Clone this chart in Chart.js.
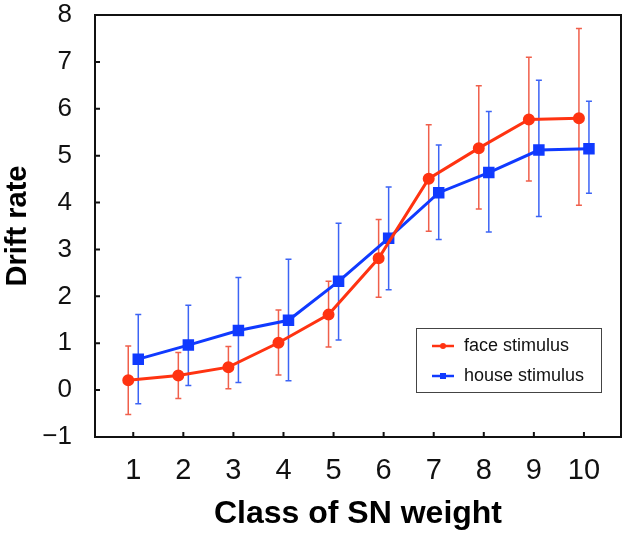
<!DOCTYPE html>
<html>
<head>
<meta charset="utf-8">
<script src="https://cdn.jsdelivr.net/npm/chart.js@4.4.1/dist/chart.umd.min.js"></script>
<style>
  body { margin: 0; background: #fff; }
  canvas { display: block; }
</style>
</head>
<body>
<canvas id="myChart" width="630" height="539"></canvas>
<script>
// classes on the x axis
const classes = [1, 2, 3, 4, 5, 6, 7, 8, 9, 10];
const yTicks = [-1, 0, 1, 2, 3, 4, 5, 6, 7, 8];

// face stimulus: mean and error bar ends
const faceMean = [0.21, 0.31, 0.49, 1.01, 1.61, 2.81, 4.51, 5.16, 5.77, 5.80];
const faceHigh = [0.94, 0.80, 0.93, 1.71, 2.32, 3.64, 5.66, 6.49, 7.10, 7.71];
const faceLow = [-0.52, -0.18, 0.03, 0.32, 0.92, 1.98, 3.39, 3.86, 4.46, 3.94];

// house stimulus
const houseMean = [0.66, 0.96, 1.27, 1.49, 2.32, 3.24, 4.21, 4.64, 5.12, 5.15];
const houseHigh = [1.61, 1.81, 2.40, 2.79, 3.56, 4.33, 5.23, 5.94, 6.61, 6.16];
const houseLow = [-0.29, 0.10, 0.16, 0.20, 1.07, 2.14, 3.21, 3.37, 3.70, 4.20];

const RED = 'rgb(255, 51, 17)';
const BLUE = 'rgb(16, 58, 255)';
const dodge = 0.1;

function points(means, lows, highs, shift) {
    return classes.map((c, i) => ({ x: c + shift, y: means[i], lo: lows[i], hi: highs[i] }));
}

// error bars, drawn under the lines
const errorBars = {
    id: 'errorBars',
    beforeDatasetsDraw(chart) {
        const ctx = chart.ctx;
        const xs = chart.scales.x, ys = chart.scales.y;
        chart.data.datasets.forEach(ds => {
            ctx.save();
            ctx.strokeStyle = ds.errColor;
            ctx.lineWidth = 1.5;
            ds.data.forEach(p => {
                const x = xs.getPixelForValue(p.x);
                const top = ys.getPixelForValue(p.hi);
                const bot = ys.getPixelForValue(p.lo);
                ctx.beginPath();
                ctx.moveTo(x, top); ctx.lineTo(x, bot);
                ctx.moveTo(x - 3, top); ctx.lineTo(x + 3, top);
                ctx.moveTo(x - 3, bot); ctx.lineTo(x + 3, bot);
                ctx.stroke();
            });
            ctx.restore();
        });
    }
};

// box around the plot, inward tick marks, legend
const frame = {
    id: 'frame',
    afterDraw(chart) {
        const ctx = chart.ctx;
        const a = chart.chartArea;
        const xs = chart.scales.x, ys = chart.scales.y;
        ctx.save();
        ctx.strokeStyle = '#111';
        ctx.lineWidth = 2;
        ctx.strokeRect(a.left, a.top, a.right - a.left, a.bottom - a.top);
        ctx.beginPath();
        yTicks.forEach(v => {
            const y = ys.getPixelForValue(v);
            ctx.moveTo(a.left, y); ctx.lineTo(a.left + 5, y);
        });
        classes.forEach(v => {
            const x = xs.getPixelForValue(v);
            ctx.moveTo(x, a.bottom); ctx.lineTo(x, a.bottom - 5);
        });
        ctx.stroke();

        // legend
        const lx = 416, ly = 328, lw = 185, lh = 64;
        ctx.fillStyle = '#fff';
        ctx.fillRect(lx, ly, lw, lh);
        ctx.strokeStyle = '#444';
        ctx.lineWidth = 1;
        ctx.strokeRect(lx + 0.5, ly + 0.5, lw, lh);
        ctx.font = '18px "Liberation Sans", Arial, sans-serif';
        ctx.textBaseline = 'middle';
        ctx.textAlign = 'left';
        chart.data.datasets.forEach((ds, i) => {
            const y = ly + 18 + i * 30;
            ctx.strokeStyle = ds.borderColor;
            ctx.fillStyle = ds.borderColor;
            ctx.lineWidth = 2.5;
            ctx.beginPath();
            ctx.moveTo(lx + 16, y); ctx.lineTo(lx + 38, y);
            ctx.stroke();
            if (ds.pointStyle === 'rect') {
                ctx.fillRect(lx + 24, y - 3, 6, 6);
            } else {
                ctx.beginPath();
                ctx.arc(lx + 27, y, 3, 0, Math.PI * 2);
                ctx.fill();
            }
            ctx.fillStyle = '#111';
            ctx.fillText(ds.label, lx + 48, y);
        });
        ctx.restore();
    }
};

const data = {
    datasets: [{
        label: 'face stimulus',
        data: points(faceMean, faceLow, faceHigh, -dodge),
        borderColor: RED,
        backgroundColor: RED,
        errColor: 'rgb(240, 95, 75)',
        borderWidth: 3,
        pointStyle: 'circle',
        pointRadius: 4.5,
        showLine: true,
        tension: 0
    }, {
        label: 'house stimulus',
        data: points(houseMean, houseLow, houseHigh, dodge),
        borderColor: BLUE,
        backgroundColor: BLUE,
        errColor: 'rgb(60, 100, 245)',
        borderWidth: 3,
        pointStyle: 'rect',
        pointRadius: 6,
        showLine: true,
        tension: 0
    }]
};

const config = {
    type: 'line',
    data: data,
    plugins: [errorBars, frame],
    options: {
        responsive: false,
        animation: false,
        layout: { padding: { top: 15, right: 8, left: 0, bottom: 0 } },
        plugins: { legend: { display: false }, tooltip: { enabled: false } },
        scales: {
            x: {
                type: 'linear',
                min: 0.236,
                max: 10.74,
                afterBuildTicks: s => { s.ticks = classes.map(v => ({ value: v })); },
                afterFit: s => { s.height = 102; s.paddingLeft = 0; s.paddingRight = 0; },
                grid: { display: false, drawTicks: false },
                border: { display: false },
                ticks: {
                    padding: 17,
                    color: '#111',
                    font: { family: '"Liberation Sans", Arial, sans-serif', size: 29 }
                },
                title: {
                    display: true,
                    text: 'Class of SN weight',
                    color: '#000',
                    padding: { top: 0, bottom: 9 },
                    font: { family: '"Liberation Sans", Arial, sans-serif', size: 32, weight: 'bold', lineHeight: 1 }
                }
            },
            y: {
                min: -1,
                max: 8,
                afterBuildTicks: s => { s.ticks = yTicks.map(v => ({ value: v })); },
                afterFit: s => { s.width = 95; s.paddingTop = 0; s.paddingBottom = 0; },
                grid: { display: false, drawTicks: false },
                border: { display: false },
                ticks: {
                    padding: 23,
                    color: '#111',
                    font: { family: '"Liberation Sans", Arial, sans-serif', size: 26 },
                    callback: v => (v < 0 ? '\u2212' + Math.abs(v) : String(v))
                },
                title: {
                    display: true,
                    text: 'Drift rate',
                    color: '#000',
                    padding: { top: 3, bottom: 0 },
                    font: { family: '"Liberation Sans", Arial, sans-serif', size: 29, weight: 'bold', lineHeight: 1 }
                }
            }
        }
    }
};

const myChart = new Chart(document.getElementById('myChart'), config);
</script>
</body>
</html>
